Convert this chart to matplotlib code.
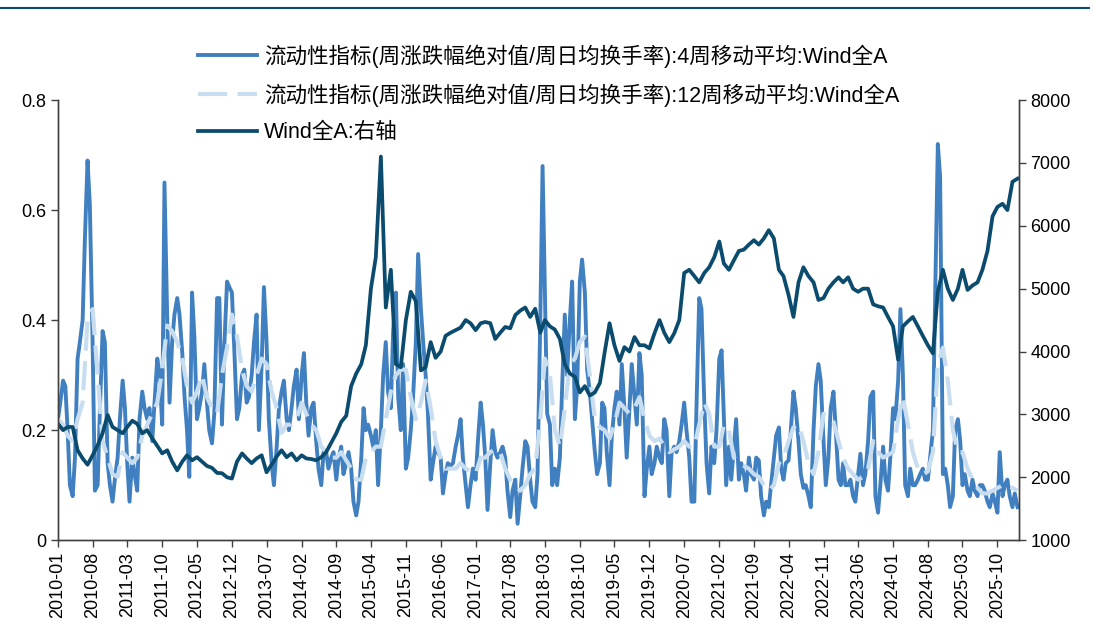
import matplotlib
matplotlib.use("Agg")
import matplotlib.pyplot as plt
from matplotlib.lines import Line2D
from matplotlib.ticker import FuncFormatter
import pandas as pd

plt.rcParams['font.family'] = ['Liberation Sans', 'Noto Sans CJK SC']
plt.rcParams['axes.unicode_minus'] = False

#######################################################################################################################
## Data
#######################################################################################################################

# 4 week moving average, two readings per month (1st / 15th)
liq4 = [
  0.22, 0.25, 0.29, 0.28, 0.20, 0.10, 0.08, 0.15, 0.33, 0.36, 0.40, 0.55, 0.69, 0.61, 0.36, 0.09, 0.10, 0.24, 0.38, 0.36, 0.14, 0.10, 0.07, 0.11,  # 2010
  0.15, 0.22, 0.29, 0.24, 0.14, 0.07, 0.15, 0.12, 0.09, 0.22, 0.27, 0.24, 0.22, 0.24, 0.18, 0.25, 0.33, 0.30, 0.21, 0.65, 0.40, 0.25, 0.36, 0.41,  # 2011
  0.44, 0.41, 0.34, 0.26, 0.20, 0.115, 0.45, 0.37, 0.22, 0.24, 0.27, 0.32, 0.25, 0.20, 0.176, 0.23, 0.44, 0.44, 0.21, 0.35, 0.47, 0.46, 0.45, 0.35,  # 2012
  0.22, 0.24, 0.30, 0.31, 0.25, 0.26, 0.30, 0.36, 0.41, 0.20, 0.32, 0.46, 0.36, 0.22, 0.14, 0.10, 0.17, 0.24, 0.27, 0.29, 0.22, 0.20, 0.24, 0.28,  # 2013
  0.31, 0.22, 0.30, 0.34, 0.25, 0.19, 0.24, 0.25, 0.18, 0.13, 0.10, 0.16, 0.16, 0.13, 0.15, 0.16, 0.11, 0.15, 0.17, 0.12, 0.14, 0.16, 0.13, 0.07,  # 2014
  0.045, 0.07, 0.15, 0.24, 0.20, 0.21, 0.19, 0.17, 0.20, 0.10, 0.20, 0.30, 0.36, 0.27, 0.24, 0.38, 0.45, 0.26, 0.20, 0.32, 0.13, 0.15, 0.20, 0.26,  # 2015
  0.36, 0.52, 0.42, 0.36, 0.30, 0.23, 0.11, 0.14, 0.17, 0.16, 0.15, 0.085, 0.12, 0.14, 0.135, 0.14, 0.17, 0.19, 0.22, 0.15, 0.10, 0.06, 0.10, 0.13,  # 2016
  0.11, 0.18, 0.25, 0.21, 0.15, 0.055, 0.14, 0.20, 0.16, 0.15, 0.16, 0.17, 0.15, 0.09, 0.042, 0.09, 0.11, 0.03, 0.08, 0.13, 0.18, 0.17, 0.11, 0.07,  # 2017
  0.06, 0.12, 0.40, 0.68, 0.45, 0.23, 0.21, 0.10, 0.13, 0.10, 0.15, 0.28, 0.41, 0.30, 0.40, 0.47, 0.22, 0.28, 0.47, 0.51, 0.45, 0.31, 0.27, 0.22,  # 2018
  0.16, 0.12, 0.14, 0.25, 0.24, 0.16, 0.10, 0.19, 0.24, 0.27, 0.21, 0.32, 0.24, 0.15, 0.24, 0.32, 0.26, 0.21, 0.34, 0.30, 0.08, 0.13, 0.17, 0.12,  # 2019
  0.14, 0.17, 0.15, 0.14, 0.22, 0.20, 0.08, 0.16, 0.17, 0.16, 0.18, 0.21, 0.25, 0.20, 0.15, 0.07, 0.07, 0.25, 0.44, 0.42, 0.25, 0.14, 0.085, 0.17,  # 2020
  0.14, 0.20, 0.33, 0.345, 0.22, 0.10, 0.17, 0.11, 0.17, 0.22, 0.11, 0.14, 0.12, 0.09, 0.15, 0.12, 0.11, 0.15, 0.145, 0.08, 0.045, 0.07, 0.06, 0.10,  # 2021
  0.15, 0.19, 0.205, 0.13, 0.11, 0.14, 0.145, 0.20, 0.27, 0.24, 0.18, 0.12, 0.095, 0.10, 0.08, 0.06, 0.20, 0.28, 0.32, 0.29, 0.18, 0.10, 0.15, 0.24,  # 2022
  0.27, 0.20, 0.11, 0.10, 0.14, 0.10, 0.10, 0.11, 0.08, 0.07, 0.12, 0.157, 0.10, 0.12, 0.18, 0.26, 0.27, 0.08, 0.05, 0.10, 0.17, 0.11, 0.09, 0.15,  # 2023
  0.24, 0.22, 0.29, 0.42, 0.30, 0.10, 0.08, 0.13, 0.10, 0.10, 0.11, 0.12, 0.13, 0.11, 0.11, 0.15, 0.20, 0.45, 0.72, 0.66, 0.12, 0.13, 0.10, 0.06,  # 2024
  0.08, 0.20, 0.22, 0.18, 0.10, 0.12, 0.09, 0.08, 0.11, 0.09, 0.08, 0.10, 0.10, 0.09, 0.07, 0.06, 0.085, 0.07, 0.05, 0.16, 0.08, 0.10, 0.11, 0.08,  # 2025
  0.06, 0.085, 0.06,  # 2026
]

# 12 week moving average, monthly readings
liq12 = [
  0.22, 0.21, 0.19, 0.18, 0.22, 0.25, 0.40, 0.42, 0.30, 0.18, 0.15, 0.12,  # 2010
  0.115, 0.16, 0.15, 0.14, 0.15, 0.19, 0.21, 0.23, 0.25, 0.31, 0.39, 0.38,  # 2011
  0.36, 0.33, 0.28, 0.25, 0.27, 0.30, 0.26, 0.24, 0.23, 0.30, 0.35, 0.41,  # 2012
  0.37, 0.31, 0.28, 0.27, 0.30, 0.33, 0.32, 0.27, 0.24, 0.195, 0.21, 0.21,  # 2013
  0.22, 0.25, 0.23, 0.21, 0.20, 0.17, 0.16, 0.15, 0.15, 0.16, 0.145, 0.13,  # 2014
  0.11, 0.11, 0.15, 0.16, 0.17, 0.17, 0.22, 0.27, 0.30, 0.31, 0.31, 0.26,  # 2015
  0.22, 0.25, 0.29, 0.24, 0.18, 0.15, 0.13, 0.13, 0.13, 0.14, 0.13, 0.125,  # 2016
  0.12, 0.15, 0.15, 0.16, 0.165, 0.16, 0.13, 0.11, 0.10, 0.09, 0.10, 0.12,  # 2017
  0.13, 0.22, 0.33, 0.30, 0.20, 0.17, 0.24, 0.32, 0.33, 0.36, 0.37, 0.30,  # 2018
  0.22, 0.205, 0.20, 0.185, 0.21, 0.25, 0.24, 0.23, 0.24, 0.26, 0.22, 0.19,  # 2019
  0.18, 0.185, 0.17, 0.16, 0.165, 0.17, 0.18, 0.17, 0.17, 0.21, 0.25, 0.23,  # 2020
  0.17, 0.17, 0.21, 0.20, 0.15, 0.14, 0.135, 0.13, 0.12, 0.115, 0.10, 0.09,  # 2021
  0.10, 0.14, 0.15, 0.18, 0.205, 0.21, 0.18, 0.14, 0.12, 0.16, 0.23, 0.22,  # 2022
  0.215, 0.18, 0.15, 0.13, 0.12, 0.11, 0.115, 0.13, 0.18, 0.16, 0.15, 0.155,  # 2023
  0.16, 0.22, 0.26, 0.21, 0.16, 0.13, 0.12, 0.125, 0.16, 0.32, 0.35, 0.29,  # 2024
  0.20, 0.16, 0.16, 0.13, 0.11, 0.095, 0.085, 0.085, 0.09, 0.095, 0.10, 0.10,  # 2025
  0.095, 0.09,  # 2026
]

# Wind All A index (right axis), monthly readings
wind_a = [
  2850, 2750, 2800, 2800, 2430, 2300, 2200, 2350, 2510, 2700, 2990, 2800,  # 2010
  2750, 2700, 2800, 2900, 2850, 2700, 2750, 2620, 2500, 2380, 2430, 2250,  # 2011
  2110, 2250, 2350, 2270, 2320, 2250, 2180, 2150, 2070, 2065, 2000, 1980,  # 2012
  2250, 2380, 2300, 2225, 2300, 2350, 2080, 2200, 2330, 2430, 2320, 2380,  # 2013
  2270, 2350, 2300, 2290, 2270, 2320, 2400, 2550, 2700, 2880, 2980, 3450,  # 2014
  3650, 3800, 4100, 5000, 5500, 7100, 4700, 5300, 3800, 3750, 4500, 4950,  # 2015
  4800, 3700, 3750, 4150, 3900, 4000, 4250, 4300, 4340, 4380, 4500, 4450,  # 2016
  4340, 4450, 4470, 4450, 4200, 4300, 4390, 4370, 4580, 4650, 4700, 4550,  # 2017
  4680, 4300, 4500, 4400, 4350, 4200, 3800, 3650, 3600, 3350, 3450, 3300,  # 2018
  3350, 3500, 3970, 4450, 4100, 3850, 4070, 4000, 4230, 4100, 4100, 4050,  # 2019
  4290, 4500, 4300, 4150, 4290, 4500, 5250, 5300, 5200, 5100, 5250, 5340,  # 2020
  5500, 5750, 5400, 5300, 5450, 5600, 5620, 5700, 5770, 5700, 5800, 5930,  # 2021
  5800, 5300, 5200, 4900, 4550, 5100, 5340, 5200, 5100, 4820, 4850, 5000,  # 2022
  5100, 5180, 5100, 5180, 5000, 4950, 5000, 5000, 4750, 4720, 4700, 4550,  # 2023
  4400, 3870, 4400, 4480, 4550, 4400, 4250, 4100, 3970, 4950, 5300, 5000,  # 2024
  4820, 5000, 5300, 4980, 5050, 5100, 5300, 5600, 6150, 6300, 6350, 6250,  # 2025
  6700, 6750,  # 2026
]

label4 = "流动性指标(周涨跌幅绝对值/周日均换手率):4周移动平均:Wind全A"
label12 = "流动性指标(周涨跌幅绝对值/周日均换手率):12周移动平均:Wind全A"
labelIdx = "Wind全A:右轴"

dates4 = pd.date_range("2010-01-01", periods=len(liq4), freq="SMS")
datesM = pd.date_range("2010-01-01", periods=len(liq12), freq="MS")
tickDates = pd.date_range("2010-01-01", "2025-10-01", freq="7MS")

#######################################################################################################################
## Plot
#######################################################################################################################

cBlue = "#4180C0"
cLight = "#C8DEF0"
cDark = "#0A4B6E"
cAxis = "#404040"

fig = plt.figure(figsize=(10.94, 6.37), dpi=100)
ax = fig.add_axes([0.053, 0.152, 0.878, 0.691])
ax2 = ax.twinx()

l1, = ax.plot(dates4, liq4, color=cBlue, lw=2.8, label=label4)
l2, = ax.plot(datesM, liq12, color=cLight, lw=3.0, dashes=(7, 2.5), label=label12)
l3, = ax2.plot(datesM, wind_a, color=cDark, lw=2.7, label=labelIdx)

ax.set_xlim(pd.Timestamp("2010-01-01"), pd.Timestamp("2026-02-07"))
ax.set_ylim(0, 0.8)
ax2.set_ylim(1000, 8000)
ax.set_yticks([0, 0.2, 0.4, 0.6, 0.8])
ax2.set_yticks(range(1000, 8001, 1000))
ax.yaxis.set_major_formatter(FuncFormatter(lambda v, p: "%g" % v))

ax.set_xticks(tickDates)
ax.set_xticklabels([d.strftime("%Y-%m") for d in tickDates], rotation=90)

for a in (ax, ax2):
  a.spines["top"].set_visible(False)
  for s in ("left", "right", "bottom"):
    a.spines[s].set_color(cAxis)
    a.spines[s].set_linewidth(1.0)
  a.tick_params(direction="out", length=5, width=1, color=cAxis, labelsize=13, labelcolor="black")

fig.legend([l1, l2, l3], [label4, label12, labelIdx], loc="upper left", bbox_to_anchor=(0.181, 0.93),
           frameon=False, fontsize=15.5, handlelength=2.75, handletextpad=0.3, labelspacing=0.72,
           borderpad=0, borderaxespad=0)

# decorative rule across the top
fig.add_artist(Line2D([0.0, 0.995], [0.987, 0.987], color=cDark, lw=1.5, transform=fig.transFigure))

fig.savefig("out.png", dpi=100)
